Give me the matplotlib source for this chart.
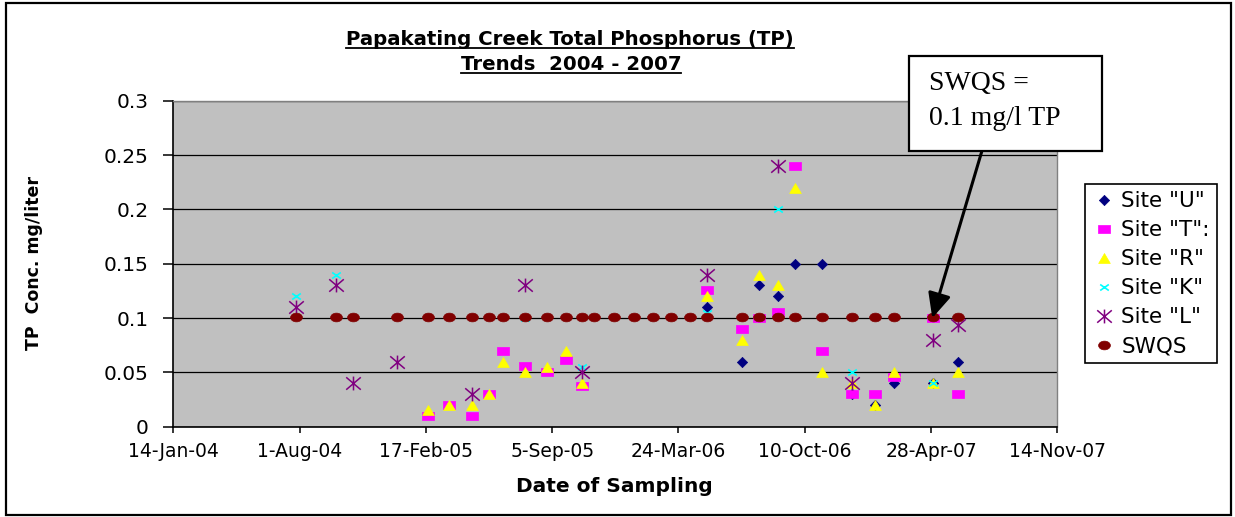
import numpy as np
import matplotlib
matplotlib.use("Agg")
import matplotlib.pyplot as plt
import matplotlib.dates as mdates
from matplotlib.path import Path
from matplotlib.patches import Rectangle
from matplotlib.lines import Line2D
from matplotlib.ticker import FuncFormatter, FixedLocator
import datetime as dt

# ---------------- data ----------------
dates = ["2004-07-26", "2004-09-27", "2004-10-24", "2005-01-02", "2005-02-20",
         "2005-03-26", "2005-05-01", "2005-05-28", "2005-06-19", "2005-07-24",
         "2005-08-28", "2005-09-27", "2005-10-23", "2005-11-11", "2005-12-12",
         "2006-01-13", "2006-02-11", "2006-03-13", "2006-04-12", "2006-05-09",
         "2006-07-02", "2006-07-30", "2006-08-28", "2006-09-25", "2006-11-07",
         "2006-12-24", "2007-01-29", "2007-02-28", "2007-05-01", "2007-06-10"]
N = None
site_U = [N, N, N, N, N, N, N, N, N, N,
          N, N, N, N, N, N, N, N, N, 0.11,
          0.06, 0.13, 0.12, 0.15, 0.15, 0.03, 0.02, 0.04, 0.04, 0.06]
site_T = [N, N, N, N, 0.01, 0.02, 0.01, 0.03, 0.07, 0.056,
          0.05, 0.061, 0.037, N, N, N, N, N, N, 0.126,
          0.09, 0.1, 0.106, 0.24, 0.07, 0.03, 0.03, 0.046, 0.1, 0.03]
site_R = [N, N, N, N, 0.015, 0.02, 0.02, 0.03, 0.06, 0.05,
          0.055, 0.07, 0.04, N, N, N, N, N, N, 0.12,
          0.08, 0.14, 0.13, 0.22, 0.05, 0.04, 0.02, 0.05, 0.04, 0.05]
site_K = [0.12, 0.14, N, N, N, N, N, N, N, 0.1,
          N, N, 0.055, N, N, N, N, N, N, 0.105,
          N, N, 0.2, N, N, 0.05, N, N, 0.04, N]
site_L = [0.11, 0.13, 0.04, 0.06, N, N, 0.03, N, N, 0.13,
          N, N, 0.05, N, N, N, N, N, N, 0.14,
          N, N, 0.24, N, N, 0.04, N, N, 0.08, 0.094]
swqs = [0.101] * 30

series_names = ['Site "U"', 'Site "T":', 'Site "R"', 'Site "K"', 'Site "L"', 'SWQS']
x_start, x_end = "2004-01-14", "2007-11-14"
tick_step_days = 200
y_ticks = [0, 0.05, 0.1, 0.15, 0.2, 0.25, 0.3]

# ---------------- figure ----------------
W, H = 1235, 517
fig = plt.figure(figsize=(W / 100, H / 100), dpi=100)
fig.patch.set_facecolor("white")

def fx(px):
    return px / W

def fy(py):
    return 1 - py / H

ax = fig.add_axes([fx(173.3), fy(426.7), fx(1057.3) - fx(173.3), fy(100.7) - fy(426.7)])
ax.set_facecolor("#C0C0C0")

xd = [mdates.date2num(dt.datetime.strptime(d, "%Y-%m-%d")) for d in dates]

def arr(v):
    return np.array([np.nan if a is None else a for a in v], dtype=float)

# custom marker shapes
diamond = Path([(0, 1), (1, 0), (0, -1), (-1, 0), (0, 1)],
               [Path.MOVETO, Path.LINETO, Path.LINETO, Path.LINETO, Path.CLOSEPOLY])
square = Path([(-1, -0.72), (1, -0.72), (1, 0.72), (-1, 0.72), (-1, -0.72)],
              [Path.MOVETO, Path.LINETO, Path.LINETO, Path.LINETO, Path.CLOSEPOLY])
triangle = Path([(0, 0.85), (1, -0.85), (-1, -0.85), (0, 0.85)],
                [Path.MOVETO, Path.LINETO, Path.LINETO, Path.CLOSEPOLY])
xmark = Path([(-1, -0.7), (1, 0.7), (-1, 0.7), (1, -0.7)],
             [Path.MOVETO, Path.LINETO, Path.MOVETO, Path.LINETO])
star = Path([(-1, -0.85), (1, 0.85), (-1, 0.85), (1, -0.85), (0, -0.95), (0, 0.95)],
            [Path.MOVETO, Path.LINETO, Path.MOVETO, Path.LINETO, Path.MOVETO, Path.LINETO])
circ = Path.unit_circle()
ellipse = Path(circ.vertices * np.array([1.0, 0.74]), circ.codes)

styles = [
    dict(marker=diamond, ms=7.4, mfc="#000080", mec="#000080", mew=0.5),
    dict(marker=square, ms=8.0, mfc="#FF00FF", mec="#FF00FF", mew=0.5),
    dict(marker=triangle, ms=8.4, mfc="#FFFF00", mec="#FFFF00", mew=0.5),
    dict(marker=xmark, ms=6.2, mfc="none", mec="#00FFFF", mew=1.2),
    dict(marker=star, ms=10.5, mfc="none", mec="#800080", mew=1.1),
    dict(marker=ellipse, ms=8.5, mfc="#800000", mec="#800000", mew=0.5),
]
values = [site_U, site_T, site_R, site_K, site_L, swqs]

handles = []
for i, (vals, st, name) in enumerate(zip(values, styles, series_names)):
    h, = ax.plot(xd, arr(vals), linestyle="none", label=name, zorder=3 + i, clip_on=False, **st)
    handles.append(h)

# axes limits and ticks
x0 = mdates.date2num(dt.datetime.strptime(x_start, "%Y-%m-%d"))
x1 = mdates.date2num(dt.datetime.strptime(x_end, "%Y-%m-%d"))
ax.set_xlim(x0, x1)
ax.set_ylim(0, 0.3)
ax.xaxis.set_major_locator(FixedLocator(np.arange(x0, x1 + 1, tick_step_days)))

def date_fmt(v, pos=None):
    d = mdates.num2date(v)
    return f"{d.day}-{d.strftime('%b-%y')}"

ax.xaxis.set_major_formatter(FuncFormatter(date_fmt))
ax.yaxis.set_major_locator(FixedLocator(y_ticks))
ax.yaxis.set_major_formatter(FuncFormatter(lambda v, p: f"{v:g}"))

ax.grid(axis="y", color="black", linewidth=0.9)
ax.set_axisbelow(True)
for s in ["top", "right"]:
    ax.spines[s].set_color("#808080")
    ax.spines[s].set_linewidth(1.0)
for s in ["left", "bottom"]:
    ax.spines[s].set_color("black")
    ax.spines[s].set_linewidth(1.2)

ax.tick_params(axis="y", direction="out", length=7, width=1.1, pad=11, labelsize=14.5, colors="black")
ax.tick_params(axis="x", direction="out", length=4, width=1.1, pad=7, labelsize=13.5, colors="black")

fig.text(fx(34), fy(263), "TP  Conc. mg/liter", rotation=90, ha="center", va="center",
         fontsize=12.5, fontweight="bold")
fig.text(fx(614), fy(487), "Date of Sampling", ha="center", va="center",
         fontsize=14.5, fontweight="bold")

# title (underlined)
t1 = fig.text(fx(570), fy(45), "Papakating Creek Total Phosphorus (TP)", ha="center",
              va="baseline", fontsize=14.2, fontweight="bold")
t2 = fig.text(fx(571), fy(70), "Trends  2004 - 2007", ha="center", va="baseline",
              fontsize=14.2, fontweight="bold")

# legend
leg = fig.legend(handles=handles, labels=series_names, loc="upper left",
                 bbox_to_anchor=(fx(1085.3), fy(184)), bbox_transform=fig.transFigure,
                 frameon=True, fancybox=False, edgecolor="black", framealpha=1,
                 fontsize=15.5, borderpad=0.33, labelspacing=0.42, handlelength=1.05,
                 handletextpad=0.3, borderaxespad=0, numpoints=1)
leg.get_frame().set_linewidth(1.2)

# annotation box with arrow
box = Rectangle((fx(909.3), fy(151)), fx(1102.3) - fx(909.3), fy(55.7) - fy(151),
                transform=fig.transFigure, facecolor="white", edgecolor="black",
                linewidth=1.6, zorder=20)
fig.patches.append(box)
fig.text(fx(929), fy(90), "SWQS =", family="Liberation Serif", fontsize=20,
         va="baseline", ha="left", zorder=21)
fig.text(fx(929), fy(125), "0.1 mg/l TP", family="Liberation Serif", fontsize=20,
         va="baseline", ha="left", zorder=21)

tip_x = mdates.date2num(dt.datetime(2007, 4, 30))
ann = ax.annotate("", xy=(tip_x, 0.1), xycoords="data",
                  xytext=(981.7, H - 151.7), textcoords="figure pixels",
                  arrowprops=dict(arrowstyle="-|>,head_length=0.75,head_width=0.35",
                                  mutation_scale=20, lw=2.2, color="black",
                                  shrinkA=0, shrinkB=0),
                  annotation_clip=False, zorder=22)

# outer frame
frame = Rectangle((fx(6), fy(515)), fx(1230.5) - fx(6), fy(3) - fy(515),
                  transform=fig.transFigure, fill=False, edgecolor="black", linewidth=1.6,
                  zorder=30)
fig.patches.append(frame)

# underline titles
fig.canvas.draw()
r = fig.canvas.get_renderer()
for t, uy in [(t1, 47.5), (t2, 72.5)]:
    bb = t.get_window_extent(r)
    fig.add_artist(Line2D([bb.x0 / W, bb.x1 / W], [fy(uy), fy(uy)], transform=fig.transFigure,
                          color="black", linewidth=1.3))

fig.savefig("out.png", dpi=100, facecolor="white")
